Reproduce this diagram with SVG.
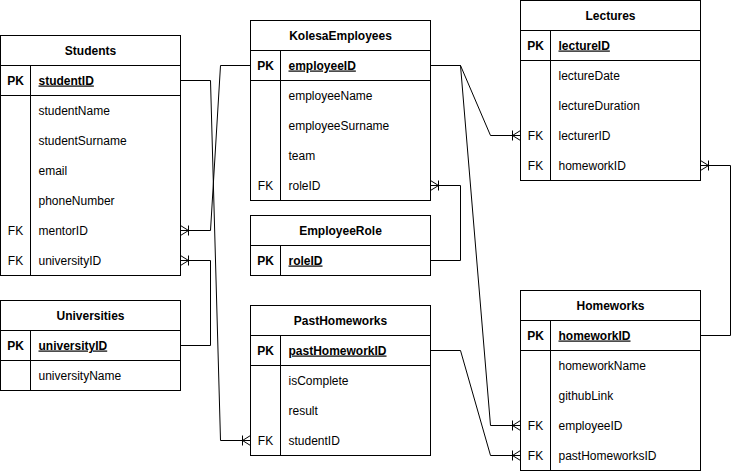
<svg xmlns="http://www.w3.org/2000/svg" width="739" height="471" viewBox="0 0 739 471">
<style>
.box{fill:#fff;stroke:#000;stroke-width:1}
.ln{stroke:#000;stroke-width:1;fill:none}
text{font-family:"Liberation Sans",Arial,sans-serif;font-size:12px;fill:#000}
.h{font-weight:bold;text-anchor:middle}
.k{text-anchor:middle}
.pk{font-weight:bold}
.pkf{font-weight:bold;text-decoration:underline}
.edge{stroke:#000;stroke-width:1;fill:none;marker-end:url(#many)}
</style>
<defs>
<marker id="many" markerUnits="userSpaceOnUse" viewBox="-12 -7 14 14" refX="0" refY="0" markerWidth="14" markerHeight="14" orient="auto" overflow="visible">
<path d="M0 -5 L-8 0 L0 5 M-8 0 H0 M-8 -5 V5" fill="none" stroke="#000" stroke-width="1"/>
</marker>
</defs>
<g id="connectors">
<path class="edge" d="M180.5 80.5 H210.5 L220.5 440.5 H250.5"/>
<path class="edge" d="M250.5 65.5 H220.5 L210.5 230.5 H180.5"/>
<path class="edge" d="M180.5 345.5 H210.5 V260.5 H180.5"/>
<path class="edge" d="M430.5 260.5 H460.5 V185.5 H430.5"/>
<path class="edge" d="M430.5 65.5 H460.5 L490.5 135.5 H520.5"/>
<path class="edge" d="M430.5 65.5 H460.5 L490.5 425.5 H520.5"/>
<path class="edge" d="M430.5 350.5 H460.5 L490.5 455.5 H520.5"/>
<path class="edge" d="M700.5 335.5 H730.5 V165.5 H700.5"/>
</g>
<g id="Students" transform="translate(0.5,35.5)">
<rect class="box" width="180" height="240"/>
<path class="ln" d="M0 30 H180 M0 60 H180 M30 30 V240"/>
<text class="h" x="90" y="19">Students</text>
<text class="k pk" x="15" y="49">PK</text>
<text class="pkf" x="38" y="49">studentID</text>
<text x="38" y="79">studentName</text>
<text x="38" y="109">studentSurname</text>
<text x="38" y="139">email</text>
<text x="38" y="169">phoneNumber</text>
<text class="k" x="15" y="199">FK</text>
<text x="38" y="199">mentorID</text>
<text class="k" x="15" y="229">FK</text>
<text x="38" y="229">universityID</text>
</g>
<g id="Universities" transform="translate(0.5,300.5)">
<rect class="box" width="180" height="90"/>
<path class="ln" d="M0 30 H180 M0 60 H180 M30 30 V90"/>
<text class="h" x="90" y="19">Universities</text>
<text class="k pk" x="15" y="49">PK</text>
<text class="pkf" x="38" y="49">universityID</text>
<text x="38" y="79">universityName</text>
</g>
<g id="KolesaEmployees" transform="translate(250.5,20.5)">
<rect class="box" width="180" height="180"/>
<path class="ln" d="M0 30 H180 M0 60 H180 M30 30 V180"/>
<text class="h" x="90" y="19">KolesaEmployees</text>
<text class="k pk" x="15" y="49">PK</text>
<text class="pkf" x="38" y="49">employeeID</text>
<text x="38" y="79">employeeName</text>
<text x="38" y="109">employeeSurname</text>
<text x="38" y="139">team</text>
<text class="k" x="15" y="169">FK</text>
<text x="38" y="169">roleID</text>
</g>
<g id="EmployeeRole" transform="translate(250.5,215.5)">
<rect class="box" width="180" height="60"/>
<path class="ln" d="M0 30 H180 M30 30 V60"/>
<text class="h" x="90" y="19">EmployeeRole</text>
<text class="k pk" x="15" y="49">PK</text>
<text class="pkf" x="38" y="49">roleID</text>
</g>
<g id="PastHomeworks" transform="translate(250.5,305.5)">
<rect class="box" width="180" height="150"/>
<path class="ln" d="M0 30 H180 M0 60 H180 M30 30 V150"/>
<text class="h" x="90" y="19">PastHomeworks</text>
<text class="k pk" x="15" y="49">PK</text>
<text class="pkf" x="38" y="49">pastHomeworkID</text>
<text x="38" y="79">isComplete</text>
<text x="38" y="109">result</text>
<text class="k" x="15" y="139">FK</text>
<text x="38" y="139">studentID</text>
</g>
<g id="Lectures" transform="translate(520.5,0.5)">
<rect class="box" width="180" height="180"/>
<path class="ln" d="M0 30 H180 M0 60 H180 M30 30 V180"/>
<text class="h" x="90" y="19">Lectures</text>
<text class="k pk" x="15" y="49">PK</text>
<text class="pkf" x="38" y="49">lectureID</text>
<text x="38" y="79">lectureDate</text>
<text x="38" y="109">lectureDuration</text>
<text class="k" x="15" y="139">FK</text>
<text x="38" y="139">lecturerID</text>
<text class="k" x="15" y="169">FK</text>
<text x="38" y="169">homeworkID</text>
</g>
<g id="Homeworks" transform="translate(520.5,290.5)">
<rect class="box" width="180" height="180"/>
<path class="ln" d="M0 30 H180 M0 60 H180 M30 30 V180"/>
<text class="h" x="90" y="19">Homeworks</text>
<text class="k pk" x="15" y="49">PK</text>
<text class="pkf" x="38" y="49">homeworkID</text>
<text x="38" y="79">homeworkName</text>
<text x="38" y="109">githubLink</text>
<text class="k" x="15" y="139">FK</text>
<text x="38" y="139">employeeID</text>
<text class="k" x="15" y="169">FK</text>
<text x="38" y="169">pastHomeworksID</text>
</g>
</svg>
